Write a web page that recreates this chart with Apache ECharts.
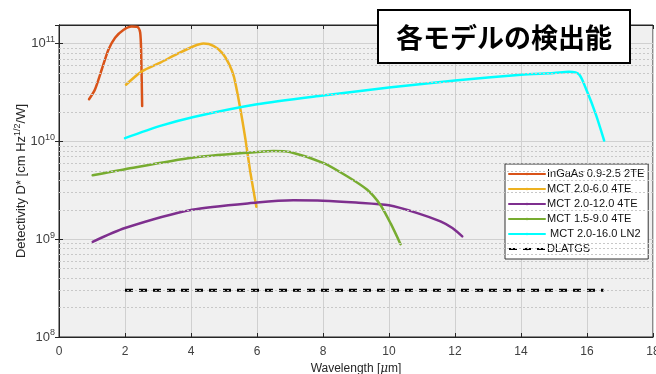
<!DOCTYPE html>
<html><head><meta charset="utf-8">
<script src="https://cdn.jsdelivr.net/npm/echarts@6/dist/echarts.min.js"></script>
<style>html,body{margin:0;padding:0;background:#fff}#c{width:656px;height:374px}</style>
</head><body><div id="c"></div>
<script>
// ---- data (wavelength [um], detectivity) ----
const seriesNames = ['InGaAs 0.9-2.5 2TE','MCT 2.0-6.0 4TE','MCT 2.0-12.0 4TE','MCT 1.5-9.0 4TE',' MCT 2.0-16.0 LN2','DLATGS'];
const ingaas = [[0.91,2.7e10],[1.09,3.4e10],[1.3,5.5e10],[1.5,8.7e10],[1.7,1.15e11],[1.95,1.38e11],[2.2,1.5e11],[2.38,1.48e11],[2.46,1.3e11],[2.49,8.1e10],[2.52,2.3e10]];
const mct26 = [[2.03,3.8e10],[2.51,5.2e10],[3.07,6.4e10],[3.57,7.8e10],[4.08,9.4e10],[4.38,1.0e11],[4.68,9.5e10],[4.95,8.0e10],[5.15,6.2e10],[5.3,4.6e10],[5.49,2.2e10],[5.65,1.05e10],[5.8,4.8e9],[5.98,2.15e9]];
const mct212 = [[1.02,9.4e8],[2.0,1.3e9],[4.03,2.0e9],[6.0,2.37e9],[7.1,2.5e9],[8.0,2.48e9],[9.0,2.37e9],[10.0,2.22e9],[10.86,1.85e9],[11.56,1.52e9],[11.92,1.3e9],[12.22,1.07e9]];
const mct159 = [[1.02,4.5e9],[2.0,5.2e9],[4.03,6.8e9],[6.0,7.8e9],[6.5,8.0e9],[7.0,7.8e9],[8.02,6.0e9],[8.73,4.4e9],[9.34,3.2e9],[9.74,2.24e9],[10.05,1.45e9],[10.35,8.9e8]];
const mct216 = [[2.0,1.08e10],[3.07,1.44e10],[4.08,1.78e10],[6.0,2.4e10],[8.0,2.95e10],[10,3.55e10],[12,4.2e10],[14,4.8e10],[15,5.0e10],[15.45,5.15e10],[15.76,4.85e10],[16.0,3.25e10],[16.27,1.88e10],[16.52,1.02e10]];
const dlatgs = [[2,3e8],[16.5,3e8]];
const xTicks = {min:0, max:18, interval:2};
const yRange = {min:1e8, max:1.55e11};
const titleText = '各モデルの検出能';
const colors = ['#D95319','#EDB120','#7E2F8E','#77AC30','#00FFFF','#000000'];

// minor grid values 2..9 x 10^n
const minorVals = [];
for (let e = 8; e <= 11; e++) for (let k = 2; k <= 9; k++) { const v = k * Math.pow(10, e); if (v < yRange.max) minorVals.push(v); }

const chart = echarts.init(document.getElementById('c'), null, {renderer:'canvas'});
const fontFam = 'Liberation Sans, Arial, sans-serif';
function mkLine(i, data, extra) {
  return Object.assign({
    name: seriesNames[i], type:'line', data: data, showSymbol:false, symbol:'none',
    smooth:0.25, clip:true,
    lineStyle:{color:colors[i], width:2.5, cap:'round', join:'round'}, itemStyle:{color:colors[i]}, z:3
  }, extra||{});
}
const series = [
  mkLine(0, ingaas),
  mkLine(1, mct26),
  mkLine(2, mct212),
  mkLine(3, mct159),
  mkLine(4, mct216),
  mkLine(5, dlatgs, {smooth:false, z:4, lineStyle:{color:'#000', width:3, type:[8,6], cap:'butt'}}),
  {type:'line', data:[], silent:true, markLine:{silent:true, symbol:'none', label:{show:false},
    lineStyle:{color:'#c8c8c8', width:1, type:[2,2]}, animation:false,
    data: minorVals.map(v => ({yAxis:v}))}, z:1}
];
const sup = {fontSize:9, verticalAlign:'bottom', padding:[0,0,8,0], color:'#404040', fontFamily:fontFam};
chart.setOption({
  animation:false,
  backgroundColor:'#fff',
  grid:{left:59, right:3, top:25, bottom:37, outerBoundsMode:'none', containLabel:false, show:true, backgroundColor:'#f0f0f0', borderColor:'#262626', borderWidth:1},
  legend:{
    orient:'vertical', left:505, top:164, data:seriesNames,
    backgroundColor:'#fff', borderColor:'#333', borderWidth:1, padding:[3,4,3,3],
    itemWidth:36, itemHeight:3, itemGap:1,
    textStyle:{fontSize:11, fontFamily:fontFam, color:'#111', lineHeight:14, padding:[0,0,0,-3]}
  },
  xAxis:[{
    type:'value', min:xTicks.min, max:xTicks.max, interval:xTicks.interval,
    name:'Wavelength [{mu|μ}m]', nameLocation:'middle', nameGap:25,
    nameTextStyle:{fontSize:12, color:'#262626', fontFamily:fontFam, rich:{mu:{fontStyle:'italic', fontSize:12, color:'#262626', fontFamily:'DejaVu Serif'}}},
    axisLine:{show:true, lineStyle:{color:'#262626'}},
    axisTick:{show:true, inside:true, length:4, lineStyle:{color:'#262626'}},
    axisLabel:{fontSize:12, color:'#404040', fontFamily:fontFam, margin:9, showMaxLabel:true},
    splitLine:{show:true, lineStyle:{color:'#d0d0d0', width:1}}
  },{
    type:'value', position:'top', min:xTicks.min, max:xTicks.max, interval:xTicks.interval,
    axisLine:{show:true, lineStyle:{color:'#262626'}},
    axisTick:{show:true, inside:true, length:4, lineStyle:{color:'#262626'}},
    axisLabel:{show:false}, splitLine:{show:false}
  }],
  yAxis:[{
    type:'log', logBase:10, min:yRange.min, max:yRange.max,
    name:'Detectivity D* [cm Hz{s|1/2}/W]', nameLocation:'middle', nameGap:30, nameRotate:90, nameMoveOverlap:false,
    nameTextStyle:{fontSize:13, color:'#262626', fontFamily:fontFam, rich:{s:{fontSize:9, padding:[0,0,7,0], verticalAlign:'bottom', color:'#262626', fontFamily:fontFam}}},
    axisLine:{show:true, lineStyle:{color:'#262626'}},
    axisTick:{show:true, inside:true, length:4, lineStyle:{color:'#262626'}},
    axisLabel:{fontSize:13, color:'#404040', fontFamily:fontFam, margin:4, showMaxLabel:false,
      formatter: v => { const e = Math.log10(v); return Math.abs(e - Math.round(e)) < 1e-6 ? '10{sup|' + Math.round(e) + '}' : ''; },
      rich:{sup:sup}},
    splitLine:{show:true, lineStyle:{color:'#d0d0d0', width:1}},
    minorTick:{show:false}
  },{
    type:'log', logBase:10, min:yRange.min, max:yRange.max, position:'right',
    axisLine:{show:true, lineStyle:{color:'#262626'}},
    axisTick:{show:true, inside:true, length:4, lineStyle:{color:'#262626'}},
    axisLabel:{show:false}, splitLine:{show:false}
  }],
  series: series,
  graphic:[{
    type:'group', left:377, top:9, z:100, zlevel:2,
    children:[
      {type:'rect', z:100, zlevel:2, shape:{x:0, y:0, width:252, height:53}, style:{fill:'#ffffff', stroke:'#000', lineWidth:2}},
      {type:'text', z:101, zlevel:2, x:126, y:28, style:{text:titleText, font:'bold 27px "Noto Sans CJK JP", sans-serif', fill:'#000', textAlign:'center', textVerticalAlign:'middle'}}
    ]
  }]
});
</script></body></html>
